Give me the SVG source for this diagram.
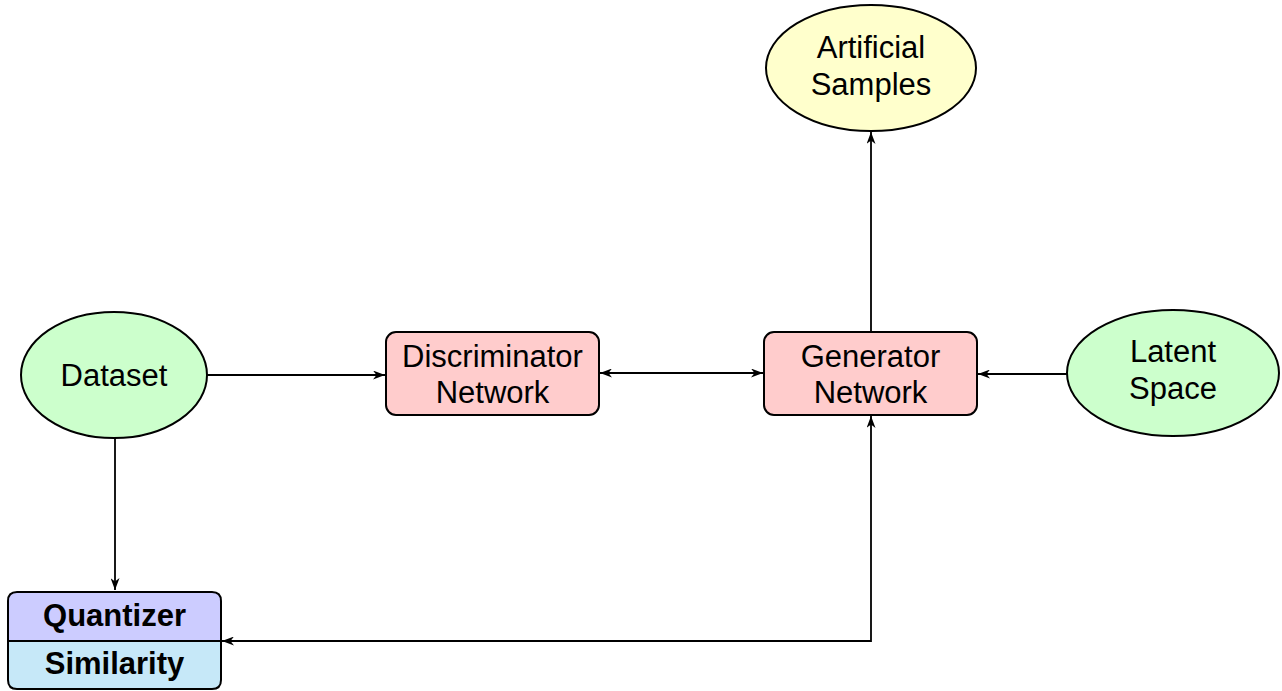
<svg xmlns="http://www.w3.org/2000/svg" width="1282" height="691" viewBox="0 0 1282 691">
  <defs>
    <marker id="arrow" viewBox="0 0 12 9" refX="12" refY="4.5" markerWidth="12" markerHeight="9" markerUnits="userSpaceOnUse" orient="auto-start-reverse">
      <path d="M0,0 L12,4.5 L0,9 L3.5,4.5 Z" fill="#000"/>
    </marker>
    <style>
      .label { font-family: "Liberation Sans", Arial, sans-serif; font-size: 31px; fill: #000; text-anchor: middle; }
      .bold { font-weight: bold; }
      .shape { stroke: #000; stroke-width: 2; }
      .edge { fill: none; stroke: #000; stroke-width: 1.8; }
    </style>
  </defs>
  <rect width="1282" height="691" fill="#fff"/>

  <g id="connectors">
    <line class="edge" x1="207" y1="375" x2="385" y2="375" marker-end="url(#arrow)"/>
    <line class="edge" x1="600" y1="373" x2="763" y2="373" marker-start="url(#arrow)" marker-end="url(#arrow)"/>
    <line class="edge" x1="1067" y1="374" x2="978" y2="374" marker-end="url(#arrow)"/>
    <line class="edge" x1="871" y1="331" x2="871" y2="132" marker-end="url(#arrow)"/>
    <line class="edge" x1="115" y1="438" x2="115" y2="590" marker-end="url(#arrow)"/>
    <polyline class="edge" points="222,641 871,641 871,416" marker-start="url(#arrow)" marker-end="url(#arrow)"/>
  </g>

  <g id="dataset">
    <ellipse class="shape" cx="114" cy="375" rx="93" ry="63" fill="#ccffcc"/>
    <text class="label" x="114" y="386">Dataset</text>
  </g>

  <g id="discriminator">
    <rect class="shape" x="386" y="332" width="213" height="83" rx="10" fill="#ffcccc"/>
    <text class="label" x="492.5" y="366.5">Discriminator</text>
    <text class="label" x="492.5" y="403">Network</text>
  </g>

  <g id="generator">
    <rect class="shape" x="764" y="332" width="213" height="83" rx="10" fill="#ffcccc"/>
    <text class="label" x="870.5" y="366.5">Generator</text>
    <text class="label" x="870.5" y="403">Network</text>
  </g>

  <g id="latent-space">
    <ellipse class="shape" cx="1173" cy="373" rx="106" ry="63" fill="#ccffcc"/>
    <text class="label" x="1173" y="362">Latent</text>
    <text class="label" x="1173" y="398.5">Space</text>
  </g>

  <g id="artificial-samples">
    <ellipse class="shape" cx="871" cy="68" rx="105" ry="63" fill="#ffffcc"/>
    <text class="label" x="871" y="58">Artificial</text>
    <text class="label" x="871" y="94.5">Samples</text>
  </g>

  <g id="quantizer-similarity">
    <path class="shape" d="M8,641 V601 Q8,592 17,592 H212 Q221,592 221,601 V641 Z" fill="#ccccff"/>
    <path class="shape" d="M8,641 H221 V680 Q221,689 212,689 H17 Q8,689 8,680 Z" fill="#c6e8f8"/>
    <text class="label bold" x="114.5" y="626">Quantizer</text>
    <text class="label bold" x="114.5" y="674">Similarity</text>
  </g>
</svg>
